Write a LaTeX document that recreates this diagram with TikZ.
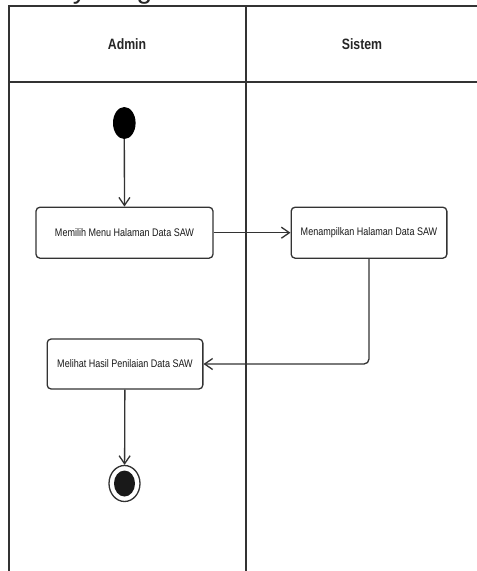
\documentclass[tikz,border=0pt]{standalone}
\usepackage{fontspec}
\setmainfont{Liberation Sans}
\newfontfamily\narrowfont[FakeStretch=0.82]{Liberation Sans}
\usetikzlibrary{arrows.meta,shapes.geometric}
\definecolor{ln}{HTML}{333333}
\tikzset{
  lane/.style={draw=ln,line width=1.5pt},
  act/.style={draw=ln,line width=1.3pt,rounded corners=4pt,inner sep=0pt,
    font=\narrowfont\fontsize{11}{13}\selectfont,text=black!90},
  hdr/.style={font=\narrowfont\bfseries\fontsize{15}{18}\selectfont,text=black!85},
  flow/.style={draw=ln,line width=1.3pt,-{Straight Barb[length=8pt,width=11pt,line width=1.3pt]}},
}
\begin{document}
\begin{tikzpicture}[x=1pt,y=-1pt]
\useasboundingbox[fill=white] (0,0) rectangle (477,571);
% clipped title
\node[anchor=base west,inner sep=0pt,font=\fontsize{28}{32}\selectfont,text=black!85] (title) at (-2,-1.5) {Activity Diagram Data SAW};
% swimlanes
\coordinate (tl) at (9,6);
\coordinate (tr) at (490,6);
\coordinate (bl) at (9,580);
\coordinate (dt) at (246,6);
\coordinate (db) at (246,580);
\coordinate (hl) at (9,82);
\coordinate (hr) at (490,82);
\draw[lane] (bl) -- (tl) -- (tr);
\draw[lane] (dt) -- (db);
\draw[lane] (hl) -- (hr);
\node[hdr] (admin) at (127,44) {Admin};
\node[hdr] (sistem) at (362,44) {Sistem};
% nodes
\node[ellipse,fill=black,inner sep=0pt,minimum width=22.6pt,minimum height=32pt] (start) at (124.3,123) {};
\node[act,minimum width=177pt,minimum height=51pt] (b1) at (124.5,232.7) {Memilih Menu Halaman Data SAW};
\node[act,minimum width=155.7pt,minimum height=51pt] (b2) at (369,232.7) {Menampilkan Halaman Data SAW};
\node[act,minimum width=155.7pt,minimum height=50pt] (b3) at (125,364) {Melihat Hasil Penilaian Data SAW};
\node[ellipse,draw=ln,line width=1.3pt,fill=white,inner sep=0pt,minimum width=31pt,minimum height=36pt] (end) at (124.5,483.5) {};
\node[ellipse,fill=black!90,inner sep=0pt,minimum width=21pt,minimum height=26pt] (endin) at (end.center) {};
% flows
\draw[flow] (start) -- (b1);
\draw[flow] (b1) -- (b2);
\draw[flow,rounded corners=5pt] (b2.south) |- (b3.east);
\draw[flow] (b3) -- (end);
\end{tikzpicture}
\end{document}
